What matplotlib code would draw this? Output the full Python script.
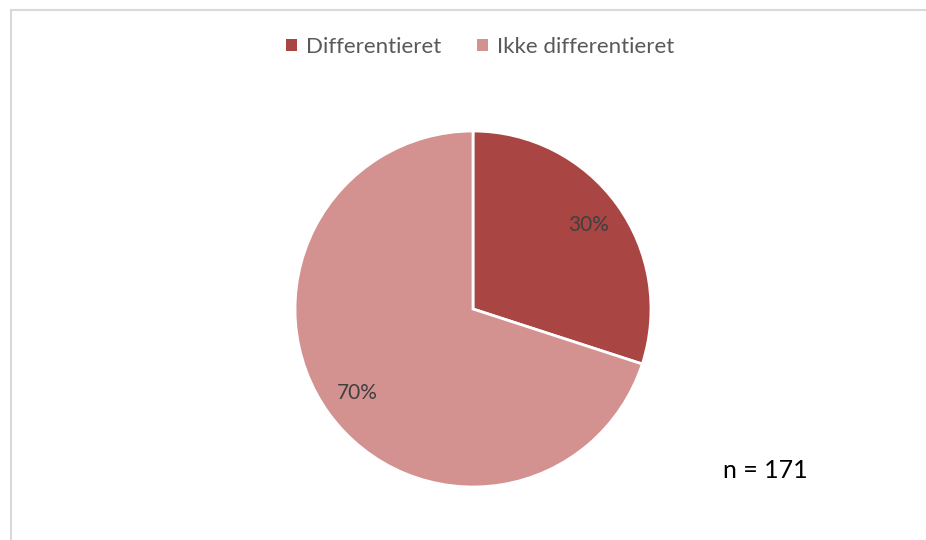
import matplotlib.pyplot as plt
from matplotlib.patches import Rectangle, Patch

# Data
kategorier = ['Differentieret', 'Ikke differentieret']
andele = [30, 70]
farver = ['#A94542', '#D39190']
n_tekst = 'n = 171'

plt.rcParams['font.family'] = ['Lato', 'DejaVu Sans']

W, H = 926, 540
fig = plt.figure(figsize=(W / 100, H / 100), dpi=100)

# lys ramme om diagrammet
fig.patches.append(Rectangle((11 / W, -0.05), 1.0, 1 - 10 / H + 0.05,
                             transform=fig.transFigure, fill=False,
                             edgecolor='#d9d9d9', linewidth=1.5))

# cirkeldiagram
cx, cy, r = 473, 309, 178
ax = fig.add_axes([(cx - r) / W, (H - cy - r) / H, 2 * r / W, 2 * r / H])
wedges, texts, autotexts = ax.pie(
    andele, colors=farver, startangle=90, counterclock=False, radius=1,
    autopct='%d%%', pctdistance=0.8,
    wedgeprops=dict(edgecolor='white', linewidth=2),
    textprops=dict(color='#404040', fontsize=15))
ax.set_xlim(-1, 1)
ax.set_ylim(-1, 1)
ax.set_aspect('equal')
ax.axis('off')

# forklaring
handles = [Patch(facecolor=f, edgecolor='none') for f in farver]
fig.legend(handles, kategorier, loc='center', bbox_to_anchor=(480 / W, 1 - 47 / H),
           ncol=2, frameon=False, fontsize=16, labelcolor='#595959',
           handlelength=0.5, handleheight=0.5, handletextpad=0.4,
           columnspacing=1.6)

fig.text(765 / W, 1 - 470 / H, n_tekst, ha='center', va='center',
         fontsize=18, color='black')

fig.savefig('out.png', dpi=100)
